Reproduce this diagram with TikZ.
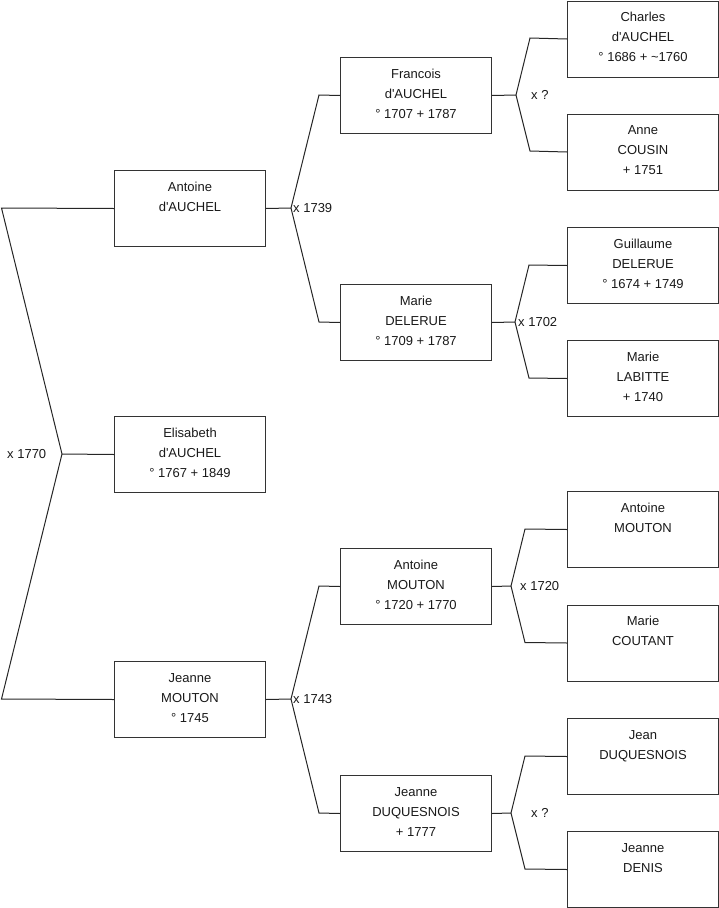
\documentclass[tikz,border=0pt]{standalone}
\usepackage{fontspec}
\setmainfont{Liberation Sans}[Ligatures=TeXOff]
\newcommand{\Person}[4]{%
  \node[box] (#1) at (#2,#3) {};
  \node[txt] (#1t) at ([yshift=-7pt]#1.north) {\strut #4};}
\begin{document}
\begin{tikzpicture}[x=1pt,y=-1pt,
  box/.style={draw=black!80, line width=1pt, rectangle, minimum width=151pt,
    minimum height=76pt, inner sep=0pt, anchor=north west},
  txt/.style={anchor=north, align=center, inner sep=0pt,
    font=\fontsize{13}{20}\selectfont, text=black!90},
  conn/.style={draw=black!85, line width=1pt, line join=miter},
  lbl/.style={anchor=base west, inner sep=0pt,
    font=\fontsize{13}{15}\selectfont, text=black!90}]
\useasboundingbox (0,0) rectangle (719,908);

% generation 1
\Person{antoine}{114}{170}{Antoine\\d'AUCHEL}
\Person{elis}{114}{416}{Elisabeth\\d'AUCHEL\\° 1767 + 1849}
\Person{jeanne}{114}{661}{Jeanne\\MOUTON\\° 1745}
% generation 2
\Person{francois}{340}{57}{Francois\\d'AUCHEL\\° 1707 + 1787}
\Person{marie}{340}{284}{Marie\\DELERUE\\° 1709 + 1787}
\Person{antoinem}{340}{548}{Antoine\\MOUTON\\° 1720 + 1770}
\Person{jeanned}{340}{775}{Jeanne\\DUQUESNOIS\\+ 1777}
% generation 3
\Person{charles}{567}{0.5}{Charles\\d'AUCHEL\\° 1686 + \textasciitilde 1760}
\Person{anne}{567}{113.5}{Anne\\COUSIN\\+ 1751}
\Person{guillaume}{567}{227}{Guillaume\\DELERUE\\° 1674 + 1749}
\Person{mariel}{567}{340}{Marie\\LABITTE\\+ 1740}
\Person{antoinemm}{567}{491}{Antoine\\MOUTON}
\Person{mariec}{567}{604.5}{Marie\\COUTANT}
\Person{jean}{567}{718}{Jean\\DUQUESNOIS}
\Person{jeannedn}{567}{831}{Jeanne\\DENIS}

% connectors generation 0
\coordinate (v0) at (62,454);
\coordinate (s0a) at (1.5,208);
\coordinate (s0b) at (1.5,699);
\draw[conn] (antoine.west) -- (s0a) -- (v0) -- (s0b) -- (jeanne.west);
\draw[conn] (v0) -- (elis.west);
\node[lbl] (l0) at (7,458) {x 1770};

% generation 1 couples
\coordinate (v1) at (291,208);
\coordinate (t1) at (319,95);
\coordinate (b1) at (319,322);
\draw[conn] (antoine.east) -- (v1);
\draw[conn] (francois.west) -- (t1) -- (v1) -- (b1) -- (marie.west);
\node[lbl] (l1) at (293,212) {x 1739};

\coordinate (v2) at (291,699);
\coordinate (t2) at (319,586);
\coordinate (b2) at (319,813);
\draw[conn] (jeanne.east) -- (v2);
\draw[conn] (antoinem.west) -- (t2) -- (v2) -- (b2) -- (jeanned.west);
\node[lbl] (l2) at (293,703) {x 1743};

% generation 2 couples
\coordinate (v3) at (516,95);
\coordinate (t3) at (530,38);
\coordinate (b3) at (530,151);
\draw[conn] (francois.east) -- (v3);
\draw[conn] (charles.west) -- (t3) -- (v3) -- (b3) -- (anne.west);
\node[lbl] (l3) at (531,99) {x ?};

\coordinate (v4) at (515,322);
\coordinate (t4) at (529,265);
\coordinate (b4) at (529,378);
\draw[conn] (marie.east) -- (v4);
\draw[conn] (guillaume.west) -- (t4) -- (v4) -- (b4) -- (mariel.west);
\node[lbl] (l4) at (518,326) {x 1702};

\coordinate (v5) at (511,586);
\coordinate (t5) at (525,529);
\coordinate (b5) at (525,642.5);
\draw[conn] (antoinem.east) -- (v5);
\draw[conn] (antoinemm.west) -- (t5) -- (v5) -- (b5) -- (mariec.west);
\node[lbl] (l5) at (520,590) {x 1720};

\coordinate (v6) at (511,813);
\coordinate (t6) at (525,756);
\coordinate (b6) at (525,869);
\draw[conn] (jeanned.east) -- (v6);
\draw[conn] (jean.west) -- (t6) -- (v6) -- (b6) -- (jeannedn.west);
\node[lbl] (l6) at (531,817) {x ?};
\end{tikzpicture}
\end{document}
